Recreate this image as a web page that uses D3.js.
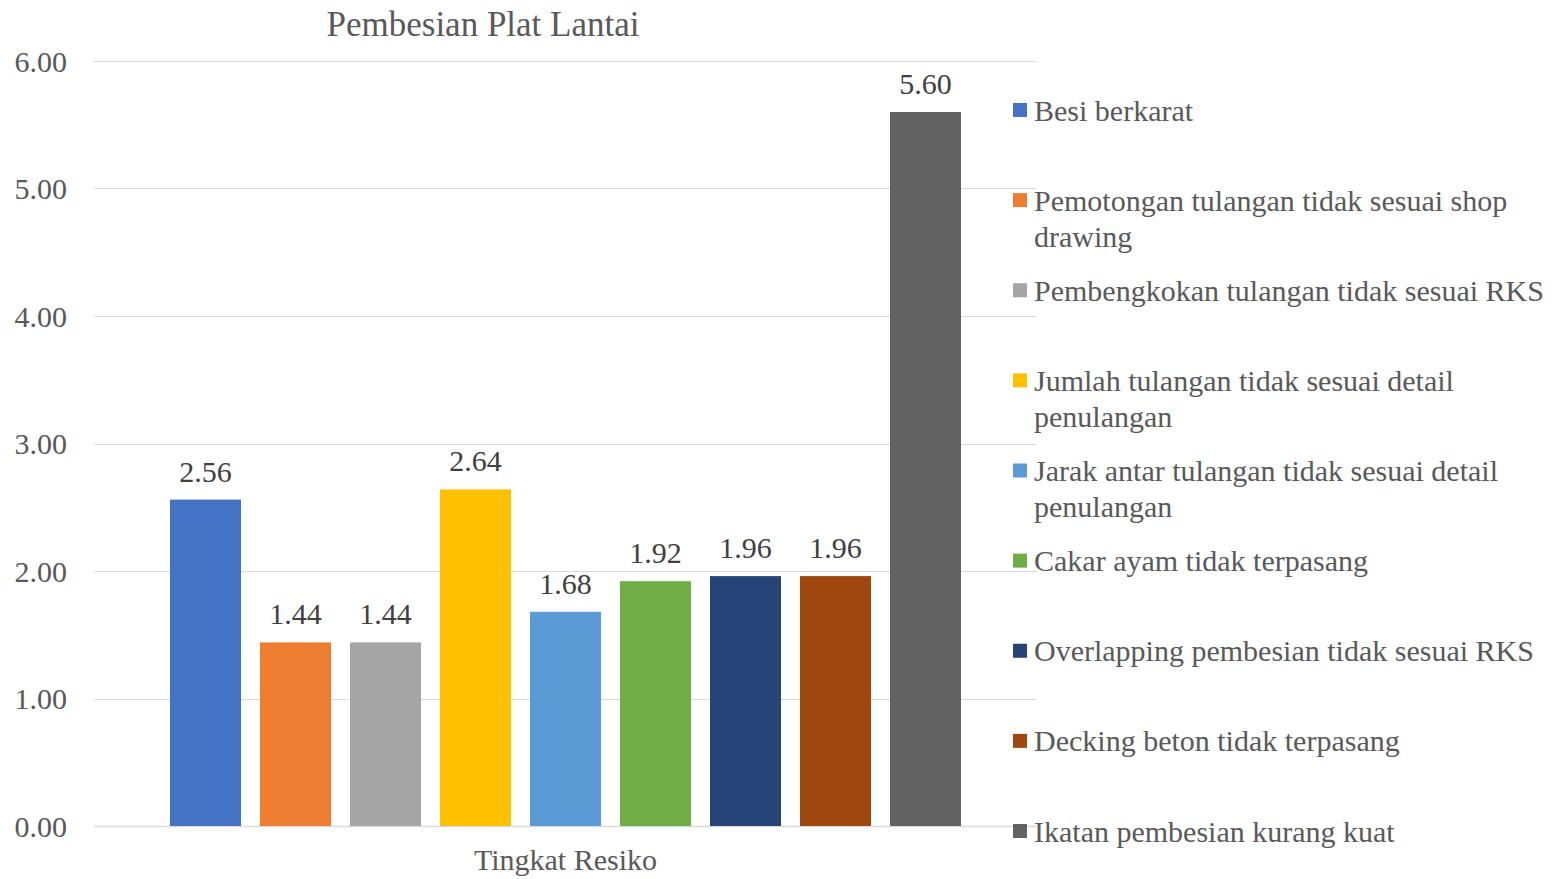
<!DOCTYPE html>
<html>
<head>
<meta charset="utf-8">
<script src="https://cdn.jsdelivr.net/npm/d3@7"></script>
<style>
    body { margin: 0; background: #fff; }
    text { font-family: "Liberation Serif", "Times New Roman", serif; }
</style>
</head>
<body>
<div id="chart"></div>
<script>
// categories (one group) and series
var categories = ["Tingkat Resiko"];
var seriesNames = [
    "Besi berkarat",
    "Pemotongan tulangan tidak sesuai shop\ndrawing",
    "Pembengkokan tulangan tidak sesuai RKS",
    "Jumlah tulangan tidak sesuai detail\npenulangan",
    "Jarak antar tulangan tidak sesuai detail\npenulangan",
    "Cakar ayam tidak terpasang",
    "Overlapping pembesian tidak sesuai RKS",
    "Decking beton tidak terpasang",
    "Ikatan pembesian kurang kuat"
];
var seriesValues = [2.56, 1.44, 1.44, 2.64, 1.68, 1.92, 1.96, 1.96, 5.60];
var seriesColors = ["#4472C4", "#ED7D31", "#A5A5A5", "#FFC000", "#5B9BD5", "#70AD47", "#264478", "#9E480E", "#636363"];
var yTicks = [0, 1, 2, 3, 4, 5, 6];

var width = 1556, height = 879;
var plot = { left: 94, right: 1037, top: 61, bottom: 826 };

var svg = d3.select("#chart").append("svg")
    .attr("width", width)
    .attr("height", height);

var y = d3.scaleLinear().domain([0, 6]).range([plot.bottom, plot.top]);

// outer band for the single category, inner band for the series
var x0 = d3.scaleBand()
    .domain(categories)
    .range([plot.left, plot.right])
    .paddingInner(0)
    .paddingOuter(0.0961);
var x1 = d3.scaleBand()
    .domain(d3.range(seriesNames.length))
    .range([0, x0.bandwidth()])
    .paddingInner(0.211)
    .paddingOuter(0);

// gridlines
svg.append("g").selectAll("line")
    .data(yTicks)
    .enter().append("line")
    .attr("x1", plot.left)
    .attr("x2", plot.right)
    .attr("y1", function (d) { return Math.round(y(d)) + 0.5; })
    .attr("y2", function (d) { return Math.round(y(d)) + 0.5; })
    .attr("stroke", "#d9d9d9")
    .attr("stroke-width", function (d) { return d == 0 ? 1.5 : 1; });

// y axis labels
svg.append("g").selectAll("text")
    .data(yTicks)
    .enter().append("text")
    .attr("x", 67)
    .attr("y", function (d) { return y(d); })
    .attr("dy", "0.35em")
    .attr("text-anchor", "end")
    .attr("fill", "#595959")
    .style("font-size", "30px")
    .text(function (d) { return d3.format(".2f")(d); });

// bars
var group = svg.append("g")
    .attr("transform", "translate(" + x0(categories[0]) + ",0)");

group.selectAll("rect")
    .data(seriesValues)
    .enter().append("rect")
    .attr("x", function (d, i) { return x1(i); })
    .attr("y", function (d) { return y(d); })
    .attr("width", x1.bandwidth())
    .attr("height", function (d) { return plot.bottom - y(d); })
    .attr("fill", function (d, i) { return seriesColors[i]; });

// data labels
group.selectAll("text")
    .data(seriesValues)
    .enter().append("text")
    .attr("x", function (d, i) { return x1(i) + x1.bandwidth() / 2; })
    .attr("y", function (d) { return y(d) - 18; })
    .attr("text-anchor", "middle")
    .attr("fill", "#404040")
    .style("font-size", "30px")
    .text(function (d) { return d3.format(".2f")(d); });

// category label
svg.append("text")
    .attr("x", x0(categories[0]) + x0.bandwidth() / 2)
    .attr("y", 859)
    .attr("dy", "0.35em")
    .attr("text-anchor", "middle")
    .attr("fill", "#595959")
    .style("font-size", "30px")
    .text(categories[0]);

// title
svg.append("text")
    .attr("x", 483)
    .attr("y", 24)
    .attr("dy", "0.35em")
    .attr("text-anchor", "middle")
    .attr("fill", "#595959")
    .style("font-size", "35px")
    .text("Pembesian Plat Lantai");

// legend
var legendY = d3.scalePoint()
    .domain(d3.range(seriesNames.length))
    .range([110, 831]);

var legend = svg.append("g").selectAll("g")
    .data(seriesNames)
    .enter().append("g")
    .attr("transform", function (d, i) { return "translate(1013," + legendY(i) + ")"; });

legend.append("rect")
    .attr("x", 0)
    .attr("y", -7)
    .attr("width", 14)
    .attr("height", 14)
    .attr("fill", function (d, i) { return seriesColors[i]; });

legend.append("text")
    .attr("x", 21)
    .attr("y", 0)
    .attr("fill", "#595959")
    .style("font-size", "30px")
    .each(function (d) {
        var lines = d.split("\n");
        var t = d3.select(this);
        lines.forEach(function (line, k) {
            t.append("tspan")
                .attr("x", 21)
                .attr("y", k * 36)
                .attr("dy", "0.35em")
                .text(line);
        });
    });
</script>
</body>
</html>
